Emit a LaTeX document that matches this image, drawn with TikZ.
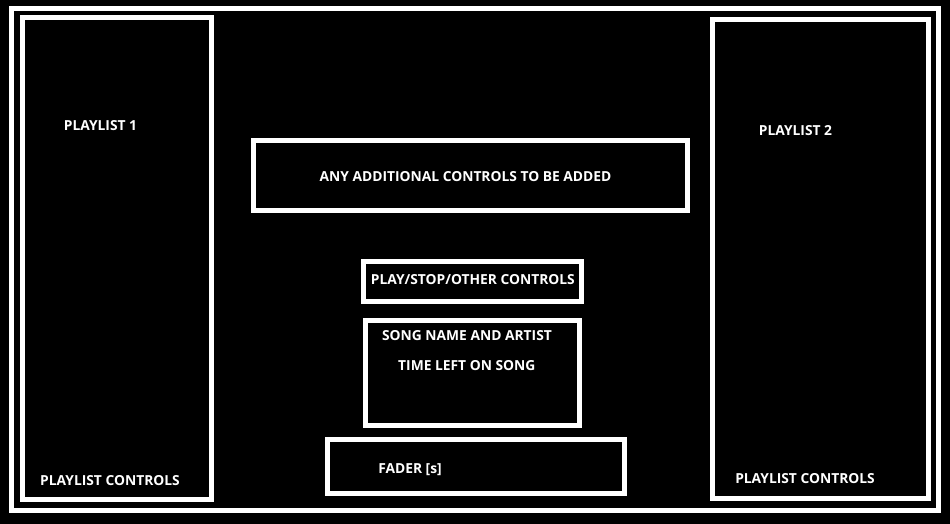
\documentclass[tikz,border=0pt]{standalone}
\usepackage{fontspec}
\setmainfont{Open Sans}
\tikzset{
  panel/.style={draw=white, line width=5pt, inner sep=0pt, fill=none},
  lbl/.style={text=white, anchor=base, inner sep=0pt, font=\fontsize{13.8}{15}\selectfont\bfseries}
}
\begin{document}
\begin{tikzpicture}[x=1pt, y=-1pt]

    % background and outer frame
    \fill[black] (0,0) rectangle (950,524);
    \useasboundingbox (0,0) rectangle (950,524);
    \node[panel, minimum width=927pt, minimum height=502pt] (frame) at (475,259.5) {};

    % side playlists
    \node[panel, minimum width=189pt, minimum height=482pt] (listone) at (117,258.5) {};
    \node[panel, minimum width=216pt, minimum height=479pt] (listtwo) at (820.5,259) {};

    % middle column
    \node[panel, minimum width=434pt, minimum height=69.5pt] (extra) at (470.5,175.25) {};
    \node[panel, minimum width=217.5pt, minimum height=40pt] (play) at (472.25,281.5) {};
    \node[panel, minimum width=213.5pt, minimum height=105.5pt] (song) at (472.25,372.75) {};
    \node[panel, minimum width=296.5pt, minimum height=53.5pt] (fader) at (475.75,466.25) {};

    % labels
    \node[lbl] (listonetitle) at (100.5,131) {PLAYLIST 1};
    \node[lbl] (listtwotitle) at (795.5,135.5) {PLAYLIST 2};
    \node[lbl] (extratext) at (465.5,181.7) {ANY ADDITIONAL CONTROLS TO BE ADDED};
    \node[lbl] (playtext) at (472.8,284.5) {PLAY/STOP/OTHER CONTROLS};
    \node[lbl] (songname) at (467,340) {SONG NAME AND ARTIST};
    \node[lbl] (songtime) at (466.8,370.7) {TIME LEFT ON SONG};
    \node[lbl] (fadertext) at (410,473.3) {FADER [s]};
    \node[lbl] (listonectl) at (110,485) {PLAYLIST CONTROLS};
    \node[lbl] (listtwoctl) at (805,483.3) {PLAYLIST CONTROLS};
\end{tikzpicture}
\end{document}
